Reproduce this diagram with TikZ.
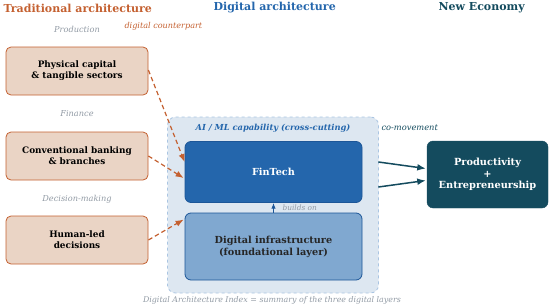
\documentclass[tikz,border=0pt]{standalone}
\usepackage{fontspec}
\setmainfont{DejaVu Serif}
\usetikzlibrary{arrows.meta,positioning,calc}

\definecolor{tradorange}{RGB}{196,96,48}
\definecolor{tradfill}{RGB}{234,212,197}
\definecolor{digiblue}{RGB}{36,102,172}
\definecolor{digidark}{RGB}{28,86,152}
\definecolor{infrafill}{RGB}{128,168,208}
\definecolor{panelfill}{RGB}{221,231,241}
\definecolor{panelline}{RGB}{170,197,226}
\definecolor{econteal}{RGB}{20,75,94}
\definecolor{labelgray}{RGB}{145,154,164}

\begin{document}
\begin{tikzpicture}[
  x=1pt, y=-1pt,
  font=\fontsize{8.5}{11}\selectfont,
  head/.style={font=\fontsize{11}{13}\selectfont\bfseries, anchor=west},
  sectorlabel/.style={font=\fontsize{8.2}{10}\selectfont\itshape, text=labelgray},
  trad/.style={rectangle, rounded corners=5pt, draw=tradorange, thick, fill=tradfill,
               align=center, font=\fontsize{8.9}{11}\selectfont\bfseries,
               minimum width=142pt, minimum height=48pt},
  digilayer/.style={rectangle, rounded corners=6pt, thick, align=center,
                font=\fontsize{9.7}{12}\selectfont\bfseries, minimum width=177pt},
  link/.style={-{Latex[length=2.8mm,width=2.2mm]}, line width=1.2pt, dash pattern=on 4.5pt off 3pt, tradorange},
  drive/.style={-{Latex[length=3mm,width=2.4mm]}, line width=1.5pt, econteal}
]
\useasboundingbox (0,0) rectangle (550,308);

% column headers
\node[head, text=tradorange] (htrad) at (0,8) {Traditional architecture};
\node[head, text=digiblue] (hdigi) at (210,8) {Digital architecture};
\node[head, text=econteal] (hecon) at (435,8) {New Economy};

% traditional side
\node[sectorlabel] (lprod) at (77,29) {Production};
\node[font=\fontsize{8.1}{10}\selectfont\itshape, text=tradorange, anchor=west] (lcount) at (121,26) {digital counterpart};
\node[trad] (phys) at (77,71) {Physical capital\\\& tangible sectors};
\node[sectorlabel] (lfin) at (77,114) {Finance};
\node[trad] (bank) at (77,156) {Conventional banking\\\& branches};
\node[sectorlabel] (ldec) at (77,199) {Decision-making};
\node[trad] (human) at (77,240) {Human-led\\decisions};

% digital panel
\node[rectangle, rounded corners=8pt, draw=panelline, dashed, thick, fill=panelfill,
      minimum width=211pt, minimum height=176pt] (panel) at (273,205) {};
\node[font=\fontsize{8.3}{10}\selectfont\bfseries\itshape, text=digiblue] (lai) at (273,128) {AI / ML capability (cross-cutting)};
\node[digilayer, fill=digiblue, draw=digidark, text=white, minimum height=61pt] (fin) at (273.5,172) {FinTech};
\node[digilayer, fill=infrafill, draw=digidark, text=black!85, minimum height=67pt] (infra) at (273.5,246.5) {Digital infrastructure\\(foundational layer)};
\node[font=\fontsize{7.4}{9}\selectfont\itshape, text=labelgray, anchor=west] (lbuild) at (279,207.5) {builds on};
\node[font=\fontsize{7.9}{9}\selectfont\itshape, text=labelgray] (lindex) at (272,300) {Digital Architecture Index = summary of the three digital layers};

% new economy
\node[rectangle, rounded corners=6pt, fill=econteal, draw=econteal, text=white, align=center,
      font=\fontsize{9.8}{11.5}\selectfont\bfseries, minimum width=121pt, minimum height=67pt] (prod) at (487.5,174.5) {Productivity\\+\\Entrepreneurship};
\node[font=\fontsize{8.3}{10}\selectfont\itshape, text=econteal, anchor=west] (lco) at (378,128) {co-movement};

% connectors
\draw[link] ($(phys.east)+(0,-1)$) -- ($(fin.west)+(0,-10)$);
\draw[link] (bank.east) -- ($(fin.west)+(-1,6)$);
\draw[link] (human.east) -- ($(infra.north west)+(-1,7)$);
\draw[-{Latex[length=2mm]}, thick, digidark] (infra.north) -- (fin.south);
\draw[drive] ($(fin.east)+(16,-10)$) -- ($(prod.west)+(-1,-6)$);
\draw[drive] ($(fin.east)+(16,15)$) -- ($(prod.west)+(-1,6)$);
\end{tikzpicture}
\end{document}
